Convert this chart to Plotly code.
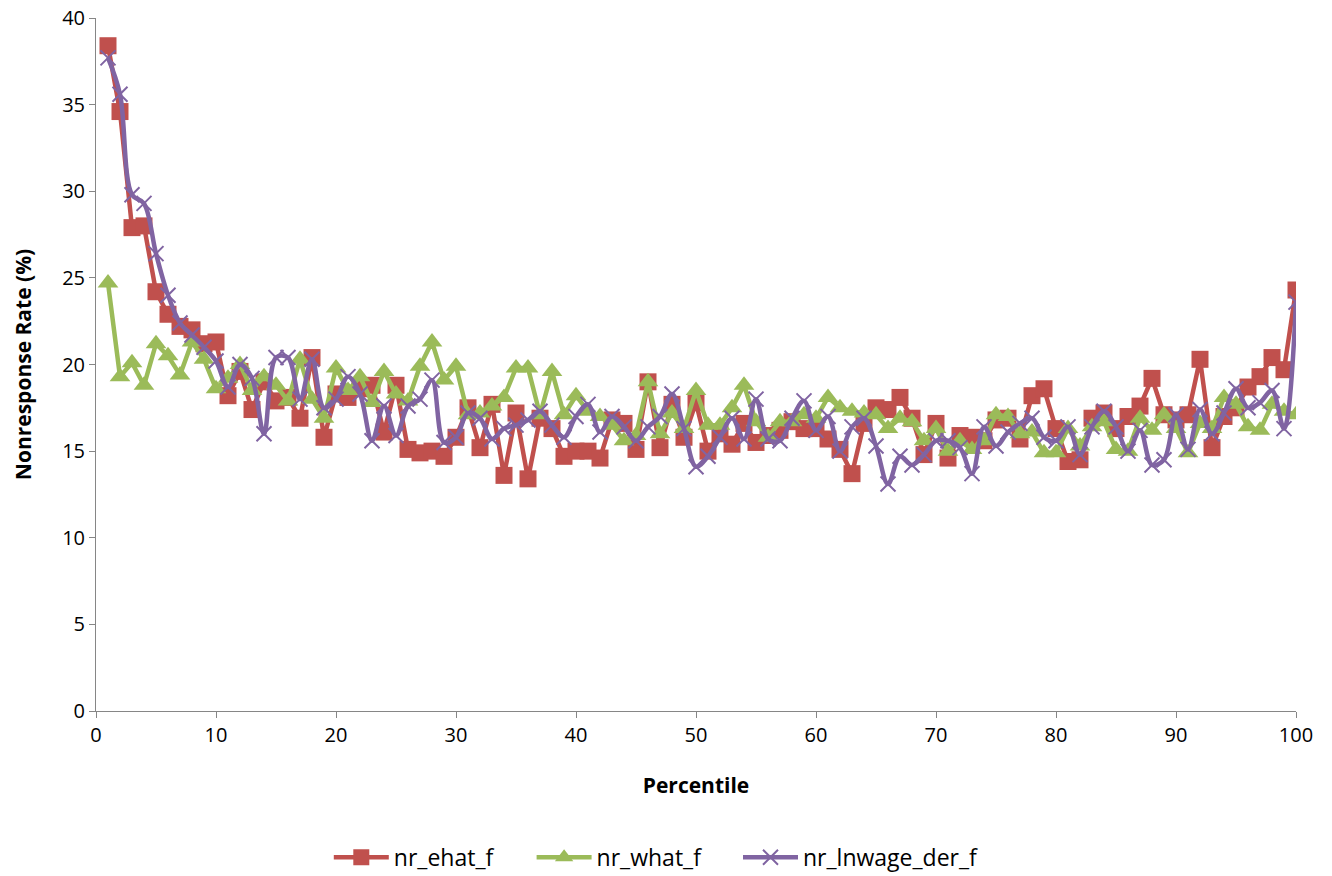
import plotly.graph_objects as go

percentile = list(range(1, 101))

nr_ehat_f = [38.4, 34.6, 27.9, 28.0, 24.2, 22.9, 22.2, 22.0, 21.2, 21.3,
             18.2, 19.6, 17.4, 19.0, 17.9, 18.1, 16.9, 20.4, 15.8, 18.3,
             18.1, 18.6, 18.8, 16.1, 18.8, 15.1, 14.9, 15.0, 14.7, 15.8,
             17.5, 15.2, 17.7, 13.6, 17.2, 13.4, 16.9, 16.3, 14.7, 15.0,
             15.0, 14.6, 16.8, 16.6, 15.1, 19.0, 15.2, 17.7, 15.8, 17.8,
             15.0, 16.0, 15.4, 16.6, 15.5, 15.9, 16.2, 16.7, 16.3, 16.3,
             15.7, 15.1, 13.7, 16.6, 17.5, 17.4, 18.1, 16.9, 14.8, 16.6,
             14.6, 15.9, 15.8, 15.6, 16.8, 16.9, 15.7, 18.2, 18.6, 16.3,
             14.4, 14.5, 16.9, 17.2, 16.3, 17.0, 17.6, 19.2, 17.1, 16.8,
             17.1, 20.3, 15.2, 17.0, 17.5, 18.7, 19.3, 20.4, 19.7, 24.3]

nr_what_f = [24.7, 19.3, 20.1, 18.8, 21.2, 20.5, 19.4, 21.3, 20.3, 18.6,
             19.2, 20.0, 18.5, 19.3, 18.8, 17.9, 20.3, 18.0, 16.9, 19.8,
             18.5, 19.3, 17.8, 19.6, 18.3, 17.9, 19.9, 21.3, 19.1, 19.9,
             17.1, 17.2, 17.6, 18.1, 19.8, 19.8, 17.1, 19.6, 17.1, 18.2,
             17.3, 17.0, 16.5, 15.6, 15.9, 19.0, 16.0, 17.2, 16.3, 18.5,
             16.5, 16.5, 17.5, 18.8, 16.7, 15.8, 16.7, 16.7, 17.1, 16.9,
             18.1, 17.5, 17.3, 17.2, 17.1, 16.3, 16.9, 16.7, 15.6, 16.3,
             15.0, 15.6, 15.1, 15.6, 17.1, 17.0, 16.0, 16.1, 14.9, 14.9,
             16.3, 15.3, 16.4, 16.7, 15.1, 15.0, 16.9, 16.2, 17.1, 16.3,
             14.9, 16.6, 16.3, 18.1, 17.7, 16.4, 16.2, 17.7, 17.3, 17.1]

nr_lnwage_der_f = [37.7, 35.6, 29.8, 29.3, 26.4, 24.0, 22.4, 21.7, 21.0, 20.2,
                   18.7, 20.0, 19.2, 16.0, 20.4, 20.4, 18.0, 20.3, 17.5, 18.0,
                   19.3, 18.3, 15.6, 17.6, 15.9, 17.6, 18.0, 19.1, 15.5, 15.8,
                   17.2, 16.9, 15.7, 16.3, 16.5, 16.8, 17.3, 16.5, 15.8, 17.0,
                   17.7, 16.1, 17.0, 16.4, 15.6, 16.4, 17.0, 18.3, 16.3, 14.1,
                   14.7, 15.8, 16.9, 15.7, 18.0, 15.7, 15.6, 16.9, 17.9, 16.2,
                   17.0, 15.0, 16.4, 16.9, 15.3, 13.1, 14.7, 14.2, 14.8, 15.6,
                   15.6, 15.2, 13.7, 16.4, 15.3, 16.1, 16.6, 16.9, 15.8, 15.6,
                   16.4, 14.8, 16.4, 17.3, 16.4, 15.0, 16.2, 14.2, 14.5, 17.1,
                   15.1, 17.4, 16.0, 17.2, 18.6, 17.5, 17.8, 18.5, 16.3, 23.6]

x_ticks = list(range(0, 101, 10))
y_ticks = list(range(0, 41, 5))

FONT = "Open Sans"

fig = go.Figure()
fig.add_trace(go.Scatter(
    x=percentile, y=nr_ehat_f, name="nr_ehat_f", mode="lines+markers",
    line=dict(color="#C0504D", width=4.5),
    marker=dict(symbol="square", size=17, color="#C0504D"),
    legend="legend",
))
fig.add_trace(go.Scatter(
    x=percentile, y=nr_what_f, name="nr_what_f", mode="lines+markers",
    line=dict(color="#9BBB59", width=4.5),
    marker=dict(symbol="triangle-up", size=18, color="#9BBB59"),
    legend="legend2",
))
fig.add_trace(go.Scatter(
    x=percentile, y=nr_lnwage_der_f, name="nr_lnwage_der_f", mode="lines+markers",
    line=dict(color="#8064A2", width=4.5, shape="spline", smoothing=1.0),
    marker=dict(symbol="x-thin", size=15, color="#8064A2",
                line=dict(color="#8064A2", width=2)),
    legend="legend3",
))

axis_common = dict(
    showgrid=False, zeroline=False, showline=True, linecolor="#868686", linewidth=1,
    ticks="outside", ticklen=6, tickcolor="#868686", automargin=False,
    tickfont=dict(family=FONT, size=20, color="#000000"),
)

legend_common = dict(orientation="h", xanchor="left", y=-0.211, yanchor="middle",
                     font=dict(family=FONT, size=23), itemwidth=55,
                     bgcolor="rgba(0,0,0,0)")

fig.update_layout(
    width=1332, height=876,
    paper_bgcolor="white", plot_bgcolor="white",
    margin=dict(l=96, r=36, t=18, b=165, autoexpand=False),
    font=dict(family=FONT, color="#000000"),
    xaxis=dict(range=[0, 100], tickvals=x_ticks, ticktext=[str(v) for v in x_ticks],
               title=dict(text="<b>Percentile</b>", font=dict(family=FONT, size=21), standoff=31),
               **axis_common),
    yaxis=dict(range=[0, 40], tickvals=y_ticks, ticktext=[str(v) for v in y_ticks],
               title=dict(text="<b>Nonresponse Rate (%)</b>", font=dict(family=FONT, size=21), standoff=24),
               **axis_common),
    legend=dict(x=0.194, **legend_common),
    legend2=dict(x=0.363, **legend_common),
    legend3=dict(x=0.535, **legend_common),
    showlegend=True,
)

fig.write_html("out.html", post_script="document.body.style.margin='0';",
               config={"displayModeBar": False})
